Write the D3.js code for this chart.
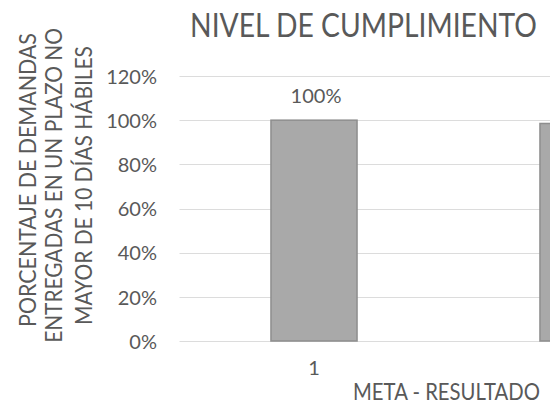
<!DOCTYPE html>
<html>
<head>
<meta charset="utf-8">
<script src="https://cdn.jsdelivr.net/npm/d3@7"></script>
<style>
  html, body { margin: 0; padding: 0; background: #ffffff; }
  svg { display: block; }
  text { font-family: Lato, "Open Sans", sans-serif; fill: #595959; }
</style>
</head>
<body>
<div id="chart"></div>
<script>
// ---- data ----
const categories = ["1", "2"];
const values = [1.00, 0.985];
const dataLabels = ["100%", "99%"];
const yTicks = [0, 0.2, 0.4, 0.6, 0.8, 1.0, 1.2];
const title = "NIVEL DE CUMPLIMIENTO";
const xTitle = "META - RESULTADO";
const yTitleLines = ["PORCENTAJE DE DEMANDAS", "ENTREGADAS EN UN PLAZO NO", "MAYOR DE 10 DÍAS HÁBILES"];

const W = 550, H = 419;
const svg = d3.select("#chart").append("svg").attr("width", W).attr("height", H);

const plotLeft = 179.5, plotRight = 717.5;
const y = d3.scaleLinear().domain([0, 1.2]).range([341, 76]);
const x = d3.scaleBand().domain(categories).range([plotLeft, plotRight])
  .paddingInner(0.68).paddingOuter(0.34);

// gridlines
svg.append("g").selectAll("line").data(yTicks).join("line")
  .attr("x1", plotLeft).attr("x2", plotRight)
  .attr("y1", d => Math.round(y(d)) + 0.5).attr("y2", d => Math.round(y(d)) + 0.5)
  .attr("stroke", "#dcdcdc").attr("stroke-width", 1);

// y axis tick labels
const yAxis = d3.axisLeft(y).tickValues(yTicks).tickFormat(d3.format(".0%")).tickSize(0).tickPadding(0);
const gy = svg.append("g").attr("transform", "translate(157,0)").call(yAxis);
gy.select(".domain").remove();
gy.selectAll("text").attr("font-size", 20).attr("fill", "#595959")
  .style("font-family", "Lato, 'Open Sans', sans-serif").attr("dy", "0.36em");

// bars
svg.append("g").selectAll("rect").data(values).join("rect")
  .attr("x", (d, i) => x(categories[i]))
  .attr("y", d => y(d))
  .attr("width", x.bandwidth())
  .attr("height", d => y(0) - y(d))
  .attr("fill", "#a9a9a9")
  .attr("stroke", "#8e8e8e").attr("stroke-width", 1.5);

// data labels (only those whose position falls inside the visible canvas)
const labelX = i => x(categories[i]) + x.bandwidth() / 2 + 2;
svg.append("g").selectAll("text")
  .data(values.map((v, i) => ({ v, i })).filter(d => labelX(d.i) + 20 < W))
  .join("text")
  .attr("x", d => labelX(d.i))
  .attr("y", d => y(d.v) - 17)
  .attr("text-anchor", "middle").attr("font-size", 20)
  .text(d => dataLabels[d.i]);

// x axis category labels
const xAxis = d3.axisBottom(x).tickSize(0).tickPadding(0);
const gx = svg.append("g").attr("transform", "translate(0,375)").call(xAxis);
gx.select(".domain").remove();
gx.selectAll(".tick").filter(d => x(d) + x.bandwidth() / 2 + 10 > W).remove();
gx.selectAll("text").attr("font-size", 20).attr("fill", "#595959")
  .style("font-family", "Lato, 'Open Sans', sans-serif").attr("dy", "0");

// text fitted horizontally to a target width via a scale transform
function fittedText(tx, ty, width, size, str, rotate) {
  const t = svg.append("text").attr("font-size", size).attr("text-anchor", "middle").text(str);
  const natural = t.node().getComputedTextLength();
  const sx = width / natural;
  t.attr("transform", `translate(${tx},${ty})${rotate ? " rotate(-90)" : ""} scale(${sx},1)`);
  return t;
}

// title (spans x 190..537)
fittedText(190 + 347 / 2, 37, 347, 32, title, false);

// x title (spans x 353..540)
fittedText(353 + 187 / 2, 400, 187, 24, xTitle, false);

// y title (rotated)
const yCenters = [28, 54, 83.5];
const yLens = [294, 315, 279];
const yMid = [180, 185.5, 185.5];
yTitleLines.forEach((t, i) => {
  fittedText(yCenters[i] + 8, yMid[i], yLens[i], 22.5, t, true);
});
</script>
</body>
</html>
